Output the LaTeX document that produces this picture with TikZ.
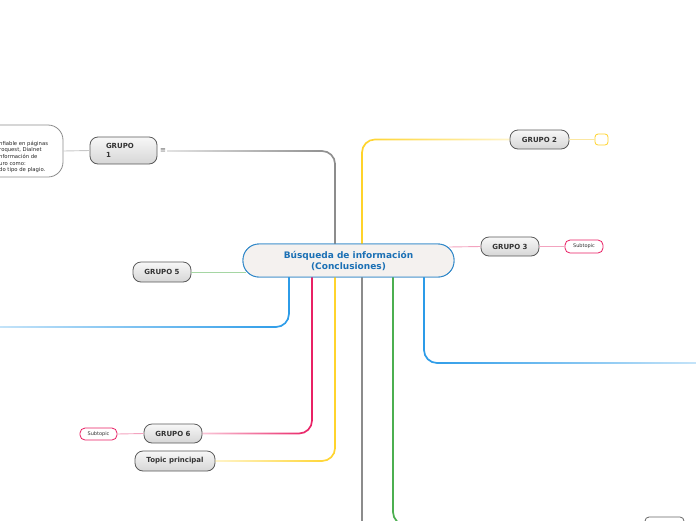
\documentclass[tikz,border=0pt]{standalone}
\usepackage{fontspec}
\setmainfont{DejaVu Sans}
\usetikzlibrary{fadings}
\definecolor{cyel}{HTML}{FFD32A}
\definecolor{cyell}{HTML}{FBE7A1}
\definecolor{cpink}{HTML}{E91E63}
\definecolor{cpinkl}{HTML}{F3A3BF}
\definecolor{cblue}{HTML}{2B9BE8}
\definecolor{cgreen}{HTML}{4CAF50}
\definecolor{cgreenl}{HTML}{A5D6A3}
\definecolor{cgray}{HTML}{8C8C8C}
\definecolor{cgrayl}{HTML}{C8C8C8}
\definecolor{ctitle}{HTML}{1B70B5}
\definecolor{cborder}{HTML}{2E86C8}
\definecolor{cfill}{HTML}{F4F1EF}
\tikzfading[name=fadeleft, left color=transparent!75, right color=transparent!0]
\tikzfading[name=faderight, left color=transparent!0, right color=transparent!75]
\begin{document}
\begin{tikzpicture}[x=1pt,y=-1pt,
  topic/.style={draw=black!65, line width=0.8pt, rounded corners=8pt,
    top color=black!3, bottom color=black!16, text=black!80,
    font=\fontsize{7}{8.5}\selectfont\bfseries, minimum height=19pt, inner sep=0pt},
  subtopic/.style={draw=cpink, line width=0.8pt, rounded corners=5pt, fill=white,
    text=black!80, font=\fontsize{5}{6}\selectfont, minimum height=12pt, inner sep=0pt},
  branch/.style={line width=1.7pt, rounded corners=13pt},
  fl/.style={path fading=fadeleft},
  fr/.style={path fading=faderight},
  twig/.style={line width=0.9pt},
  centralstyle/.style={draw=cborder, line width=0.9pt, rounded corners=16pt, fill=cfill,
      minimum width=211pt, minimum height=33pt, inner sep=0pt, align=center,
      text=ctitle, font=\fontsize{9}{11}\selectfont\bfseries}
]
\useasboundingbox (0,0) rectangle (696,520);
\clip (0,0) rectangle (696,520);

% nodes
\node[centralstyle] (central) at (348.5,260.5) {Búsqueda de información\\(Conclusiones)};

\node[topic, minimum width=67pt, minimum height=27pt, text width=35pt, align=left]
      (g1) at (123.5,150.5) {GRUPO\\1};
\node[text=black!60, font=\fontsize{7}{7}\selectfont, inner sep=1pt] (g1icon) at (163,151) {≡};
\node[topic, minimum width=59pt] (g2) at (539.5,139.5) {GRUPO 2};
\node[topic, minimum width=58pt] (g3) at (510,246.5) {GRUPO 3};
\node[topic, minimum width=58pt, minimum height=20pt] (g5) at (162,272) {GRUPO 5};
\node[topic, minimum width=58pt] (g6) at (173,433.5) {GRUPO 6};
\node[topic, minimum width=80pt, minimum height=20pt] (tp) at (175,461) {Topic principal};
\node[subtopic, minimum width=38pt, minimum height=13pt] (s3) at (584,246.5) {Subtopic};
\node[subtopic, minimum width=37pt] (s6) at (98.5,434) {Subtopic};
\node[draw=cyel, line width=0.8pt, rounded corners=3pt, fill=white,
      minimum width=13pt, minimum height=11pt, inner sep=0pt] (ye) at (601.5,139.5) {};
\node[draw=black!45, line width=0.8pt, rounded corners=15pt, fill=white,
      minimum width=163pt, minimum height=52pt, inner sep=0pt] (left) at (-18.5,151) {};
\node[anchor=west, align=left, inner sep=0pt, text=black!85,
      font=\fontsize{5.3}{6.6}\selectfont] (lefttext) at (-1,157)
      {nfiable en páginas\\roquest, Dialnet\\nformación de\\uro como:\\do tipo de plagio.};
\node[draw=black!60, line width=0.8pt, rounded corners=4pt, fill=white,
      minimum width=39pt, minimum height=16pt, inner sep=0pt] (btm) at (664.5,525) {};

% attachment points on the central topic
\coordinate (cT1) at (335,244.5);
\coordinate (cT2) at (362,244.5);
\coordinate (cB1) at (289,276.5);
\coordinate (cB2) at (312,276.5);
\coordinate (cB3) at (335,276.5);
\coordinate (cB4) at (362,276.5);
\coordinate (cB5) at (393,276.5);
\coordinate (cB6) at (424,276.5);
\coordinate (cL) at (246,272);
\coordinate (cR) at (449,247);
\coordinate (gD) at (362,530);
\coordinate (bR) at (705,363);
\coordinate (bL) at (-10,327);

% branches
\draw[branch, cgray, fl] (g1icon.east) -| (cT1);
\draw[branch, cyel, fr] (g2.west) -| (cT2);
\draw[branch, cgray] (cB4) -- (gD);
\draw[branch, cgreen] (cB5) |- (btm.west);
\draw[branch, cblue, fr] (cB6) |- (bR);
\draw[branch, cblue, fl] (cB1) |- (bL);
\draw[branch, cpink, fl] (cB2) |- (g6.east);
\draw[branch, cyel, fl] (cB3) |- (tp.east);

% twigs
\draw[twig, cgreenl] (g5.east) -- (cL);
\draw[twig, cpinkl] (cR) -- (g3.west);
\draw[twig, cpinkl] (g3.east) -- (s3.west);
\draw[twig, cyell] (g2.east) -- (ye.west);
\draw[twig, cpinkl] (g6.west) -- (s6.east);
\draw[twig, cgrayl] (left.east) -- (g1.west);

% central topic drawn again on top of the branch ends
\node[centralstyle] (centraltop) at (central.center) {Búsqueda de información\\(Conclusiones)};
\end{tikzpicture}
\end{document}
